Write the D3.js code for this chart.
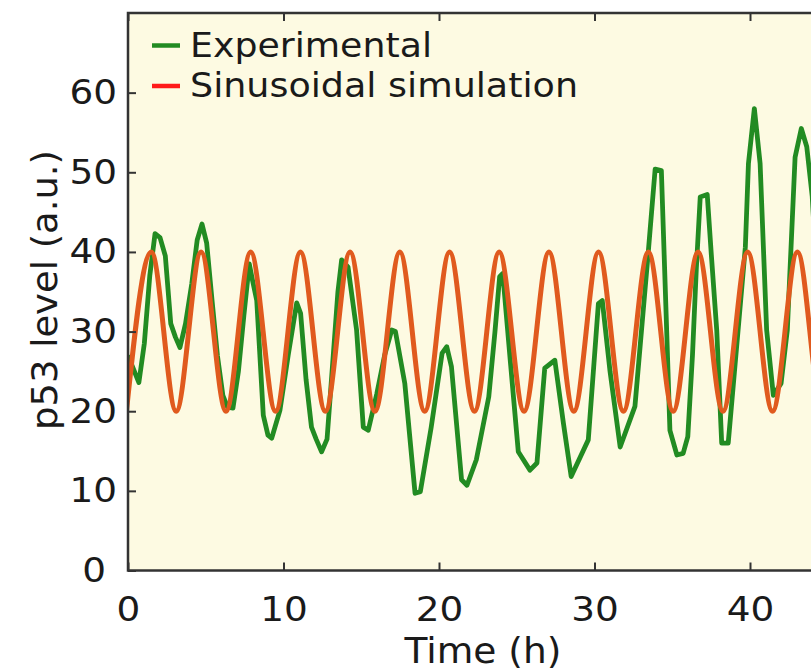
<!DOCTYPE html>
<html>
<head>
<meta charset="utf-8">
<script src="https://cdn.jsdelivr.net/npm/d3@7"></script>
<style>
  body { margin: 0; background: #fff; }
  text { font-family: "DejaVu Sans", Verdana, sans-serif; fill: #1a1a1a; }
</style>
</head>
<body>
<div class="container"></div>
<script>
// Experimental p53 trace (time in h, level in a.u.)
const expTime = [0.0, 0.7, 1.05, 1.4, 1.74, 2.06, 2.4, 2.75, 3.05, 3.34, 3.7, 4.1, 4.45, 4.76, 5.06, 5.4, 5.75, 6.1, 6.4, 6.75,
  7.1, 7.45, 7.8, 8.0, 8.28, 8.7, 9.0, 9.24, 9.77, 10.3, 10.85, 11.1, 11.45, 11.8, 12.1, 12.45, 12.8, 13.2, 13.5, 13.74,
  14.15, 14.7, 15.13, 15.45, 16.0, 16.5, 16.96, 17.2, 17.8, 18.46, 18.8, 19.5, 20.2, 20.5, 20.8, 21.45, 21.8, 22.4, 23.2, 23.6,
  23.9, 24.1, 24.6, 25.1, 25.85, 26.3, 26.8, 27.45, 28.0, 28.5, 29.6, 30.25, 30.5, 31.0, 31.65, 32.6, 33.45, 33.9, 34.3, 34.64,
  34.85, 35.3, 35.7, 36.0, 36.3, 36.55, 36.8, 37.25, 37.5, 37.86, 38.18, 38.6, 39.4, 39.7, 39.9, 40.28, 40.65, 41.07, 41.5, 42.0,
  42.4, 42.9, 43.3, 43.65, 44.0, 44.5];
const expLevel = [27.0, 23.6, 28.5, 37.0, 42.3, 41.8, 39.5, 31.0, 29.3, 28.0, 31.0, 36.0, 41.5, 43.5, 41.1, 34.0, 27.0, 22.0, 20.5, 20.4,
  25.0, 32.0, 38.5, 36.5, 33.9, 19.5, 17.0, 16.6, 20.1, 27.0, 33.6, 32.3, 24.0, 18.0, 16.5, 14.9, 16.5, 27.0, 35.0, 39.0,
  38.1, 30.2, 18.0, 17.6, 22.2, 27.0, 30.2, 30.0, 23.5, 9.7, 9.9, 18.0, 27.3, 28.1, 25.6, 11.4, 10.7, 13.9, 21.8, 30.0,
  36.9, 37.3, 26.0, 14.9, 12.6, 13.5, 25.4, 26.4, 18.5, 11.8, 16.4, 33.5, 33.9, 25.0, 15.5, 20.6, 39.8, 50.4, 50.2, 30.2,
  17.6, 14.5, 14.7, 16.8, 27.0, 38.0, 46.9, 47.2, 40.0, 30.2, 16.0, 16.0, 33.9, 40.6, 51.1, 58.0, 51.1, 30.2, 22.0, 23.5,
  30.2, 51.9, 55.5, 53.2, 47.0, 30.0];

// Sinusoidal simulation, read as its peaks and troughs
const simTime = [-0.1, 1.5, 3.1, 4.7, 6.3, 7.89, 9.49, 11.09, 12.69, 14.28, 15.88, 17.48, 19.08, 20.68, 22.28,
  23.87, 25.47, 27.07, 28.67, 30.26, 31.86, 33.46, 35.06, 36.66, 38.26, 39.85, 41.45, 43.05, 44.65, 46.24];
const simLevel = [20, 40, 20, 40, 20, 40, 20, 40, 20, 40, 20, 40, 20, 40, 20,
  40, 20, 40, 20, 40, 20, 40, 20, 40, 20, 40, 20, 40, 20, 40];

const xTicks = [0, 10, 20, 30, 40];
const yTicks = [0, 10, 20, 30, 40, 50, 60];
const seriesNames = ['Experimental', 'Sinusoidal simulation'];

const width = 811, height = 672;
const margin = {top: 13, left: 128, bottom: 570.5};
const greenClr = '#228b22', orangeClr = '#e05a1e', legendRed = '#ff1a1a';
const axisClr = '#333';

let xScale = d3.scaleLinear().domain([0, 50]).range([margin.left, margin.left + 15.55 * 50]);
let yScale = d3.scaleLinear().domain([0, 70]).range([margin.bottom, margin.top]);
const plotRight = xScale(50);

// widen a text node to the given factor (the original font runs wider)
function stretch(sel, factor) {
  sel.each(function () {
    let w = this.getComputedTextLength();
    d3.select(this).attr('textLength', w * factor).attr('lengthAdjust', 'spacingAndGlyphs');
  });
}

let svg = d3.select('.container')
  .append('svg')
  .attr('width', width)
  .attr('height', height);

svg.append('defs').append('clipPath')
  .attr('id', 'plot-clip')
  .append('rect')
  .attr('x', margin.left).attr('y', margin.top)
  .attr('width', plotRight - margin.left)
  .attr('height', margin.bottom - margin.top);

// plot background
svg.append('rect')
  .attr('x', margin.left).attr('y', margin.top)
  .attr('width', plotRight - margin.left)
  .attr('height', margin.bottom - margin.top)
  .attr('fill', '#fdfae2');

// lines
let expData = expTime.map((t, i) => [t, expLevel[i]]);
let simData = simTime.map((t, i) => [t, simLevel[i]]);

let lines = svg.append('g').attr('clip-path', 'url(#plot-clip)');
lines.append('path')
  .datum(expData)
  .attr('fill', 'none')
  .attr('stroke', greenClr)
  .attr('stroke-width', 4.8)
  .attr('stroke-linejoin', 'round')
  .attr('d', d3.line().x(d => xScale(d[0])).y(d => yScale(d[1])));
lines.append('path')
  .datum(simData)
  .attr('fill', 'none')
  .attr('stroke', orangeClr)
  .attr('stroke-width', 5)
  .attr('d', d3.line().curve(d3.curveMonotoneX).x(d => xScale(d[0])).y(d => yScale(d[1])));

// axes: ticks point inward, box on top and left
let xAxis = d3.axisBottom(xScale).tickValues(xTicks).tickSize(-8).tickPadding(26).tickFormat(d3.format('d'));
let xAxisTop = d3.axisTop(xScale).tickValues(xTicks).tickSize(-8).tickFormat('');
let yAxis = d3.axisLeft(yScale).tickValues(yTicks).tickSize(-8).tickPadding(11).tickFormat(d3.format('d'));

function styleAxis(g) {
  g.select('.domain').remove();
  g.selectAll('line').attr('stroke', axisClr).attr('stroke-width', 2);
  g.selectAll('text').style('font-size', '34px').attr('fill', '#1a1a1a')
    .style('font-family', '"DejaVu Sans", Verdana, sans-serif');
}

let gx = svg.append('g').attr('transform', 'translate(0,' + margin.bottom + ')').call(xAxis).call(styleAxis);
gx.selectAll('text').attr('dy', '0.71em').call(stretch, 1.1);
svg.append('g').attr('transform', 'translate(0,' + margin.top + ')').call(xAxisTop).call(styleAxis);
let gy = svg.append('g').attr('transform', 'translate(' + margin.left + ',0)').call(yAxis).call(styleAxis);
gy.selectAll('text').call(stretch, 1.1);
// the zero on the y axis sits a little further left
gy.selectAll('.tick').filter(d => d === 0).select('text').attr('x', -22);

// frame
svg.append('path')
  .attr('d', 'M' + plotRight + ',' + margin.top + 'H' + margin.left + 'V' + margin.bottom + 'H' + plotRight)
  .attr('fill', 'none')
  .attr('stroke', axisClr)
  .attr('stroke-width', 2.5);

// axis labels
svg.append('text')
  .text('Time (h)')
  .attr('x', 483).attr('y', 663)
  .attr('text-anchor', 'middle')
  .style('font-size', '35px')
  .attr('textLength', 157).attr('lengthAdjust', 'spacingAndGlyphs');
svg.append('text')
  .text('p53 level (a.u.)')
  .attr('transform', 'translate(57,290) rotate(-90)')
  .attr('text-anchor', 'middle')
  .style('font-size', '35px')
  .attr('textLength', 280).attr('lengthAdjust', 'spacingAndGlyphs');

// legend
let legend = svg.append('g').classed('legend', true);
let legendClrs = [greenClr, legendRed];
let legendLen = [242, 388];
seriesNames.forEach((name, i) => {
  let y = 45.5 + i * 40.5;
  legend.append('line')
    .attr('x1', 152).attr('x2', 180)
    .attr('y1', y).attr('y2', y)
    .attr('stroke', legendClrs[i])
    .attr('stroke-width', 4.5);
  legend.append('text')
    .text(name)
    .attr('x', 190).attr('y', y + 11)
    .style('font-size', '33px')
    .attr('textLength', legendLen[i]).attr('lengthAdjust', 'spacingAndGlyphs');
});
</script>
</body>
</html>
